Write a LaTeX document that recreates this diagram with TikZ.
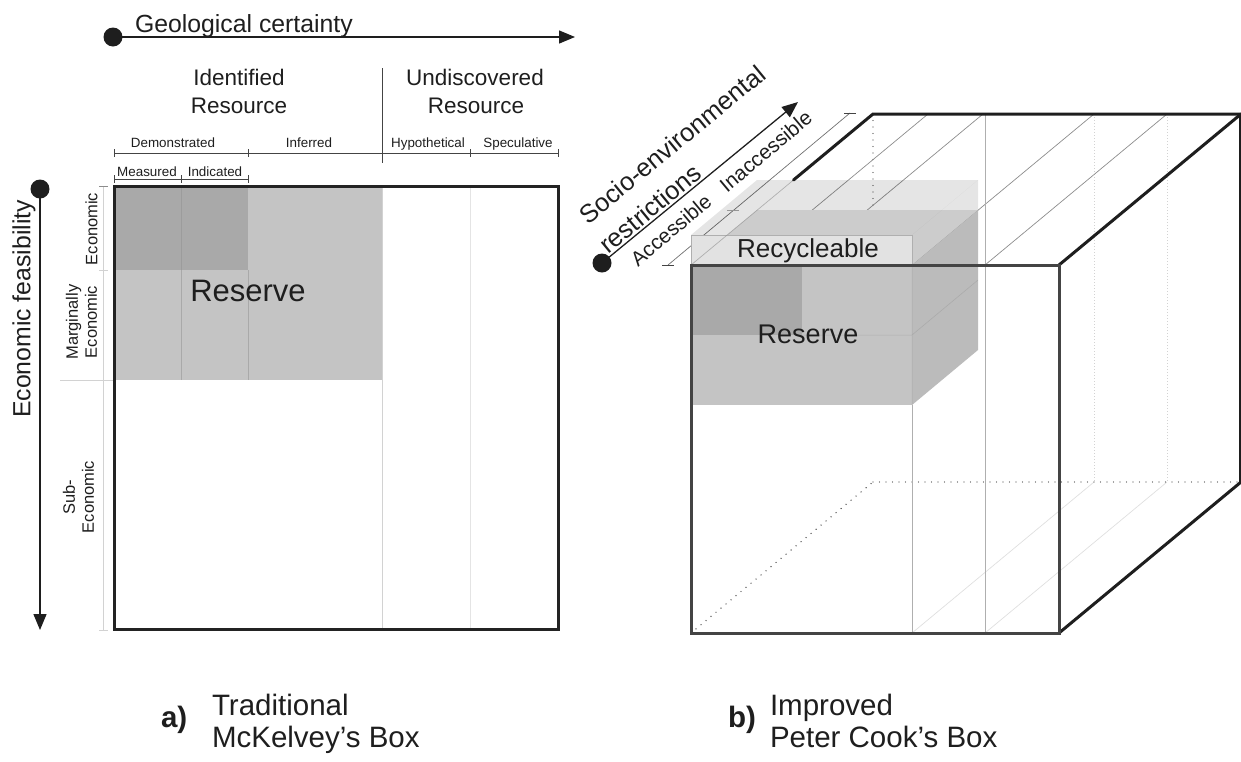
\documentclass[tikz,border=0pt]{standalone}
\usepackage{fontspec}
\setmainfont{Liberation Sans}
\usetikzlibrary{arrows.meta}

\definecolor{ink}{HTML}{1E1E1E}
\definecolor{frameA}{HTML}{232323}
\definecolor{frameB}{HTML}{444444}
\definecolor{resdark}{HTML}{A9A9A9}
\definecolor{reslight}{HTML}{C4C4C4}
\definecolor{resside}{HTML}{BBBBBB}
\definecolor{restop}{HTML}{E4E4E4}
\definecolor{recfront}{HTML}{E2E2E2}
\definecolor{bracket}{HTML}{444444}
\definecolor{faint}{HTML}{D2D2D2}
\definecolor{gridc}{HTML}{8C8C8C}

\begin{document}
\begin{tikzpicture}[x=1pt,y=-1pt,
  every node/.style={inner sep=0pt, outer sep=0pt, text=ink},
  dotnode/.style={circle, fill=ink, minimum size=19pt},
  axisline/.style={draw=ink, line width=1.4pt, -{Triangle[length=16pt,width=13pt]}},
  axistitle/.style={font=\fontsize{24.8}{30}\selectfont},
  grouptitle/.style={font=\fontsize{22.5}{28}\selectfont},
  classlabel/.style={font=\fontsize{13.4}{16}\selectfont},
  sidelabel/.style={font=\fontsize{16.5}{19}\selectfont, rotate=90, align=center},
  depthlabel/.style={font=\fontsize{20.5}{24}\selectfont, rotate=39.9, anchor=base west},
  boxlabel/.style={font=\fontsize{#1}{#1}\selectfont, anchor=base},
  caption/.style={font=\fontsize{29.5}{34}\selectfont, anchor=base west},
  bracketline/.style={draw=bracket, line width=1pt},
  faintline/.style={draw=faint, line width=0.8pt},
  gridline/.style={draw=gridc, line width=0.7pt},
  hiddenedge/.style={draw=frameB, line width=1.4pt, line cap=round, dash pattern=on 0pt off 6.5pt},
  hiddengrid/.style={draw=faint, line width=0.6pt, dash pattern=on 1pt off 2pt},
  cubeedge/.style={draw=ink, line width=3pt, line cap=round},
  frontedge/.style={draw=frameB, line width=3pt}
]
\useasboundingbox (0,0) rectangle (1241,761);

% ================= a) McKelvey box =================
% geological certainty axis
\node[dotnode] (gdot) at (113,37) {};
\coordinate (gend) at (575,37);
\draw[axisline] (gdot.center) -- (gend);
\node[axistitle, anchor=base west] (gtitle) at (135,32) {Geological certainty};

% economic feasibility axis
\node[dotnode] (edot) at (40,189) {};
\coordinate (eend) at (40,630);
\draw[axisline] (edot.center) -- (eend);
\node[axistitle, rotate=90] (etitle) at (24,309) {Economic feasibility};

% resource groups
\node[grouptitle, anchor=base] (ident1) at (239,85) {Identified};
\node[grouptitle, anchor=base] (ident2) at (239,113) {Resource};
\node[grouptitle, anchor=base] (undis1) at (475,85) {Undiscovered};
\node[grouptitle, anchor=base] (undis2) at (476,113) {Resource};

% class brackets
\draw[bracketline] (382,68) -- (382,163);
\draw[bracketline] (114,153) -- (558,153);
\foreach \x in {114,248,470,558} \draw[bracketline] (\x,149) -- (\x,157);
\draw[bracketline] (114,179) -- (248,179);
\foreach \x in {114,181,248} \draw[bracketline] (\x,175) -- (\x,183);
\node[classlabel, anchor=base] (demo) at (173,147) {Demonstrated};
\node[classlabel, anchor=base] (infer) at (309,147) {Inferred};
\node[classlabel, anchor=base] (hypo) at (428,147) {Hypothetical};
\node[classlabel, anchor=base] (spec) at (518,147) {Speculative};
\node[classlabel, anchor=base] (meas) at (147,176) {Measured};
\node[classlabel, anchor=base] (indi) at (215,176) {Indicated};

% economic scale on the left
\draw[faintline] (103,186) -- (103,630);
\draw[faintline] (60,380) -- (114,380);
\draw[draw=gridc, line width=0.8pt] (99,186) -- (108,186);
\draw[draw=faint, line width=0.8pt] (99,270) -- (108,270);
\draw[draw=faint, line width=0.8pt] (99,630) -- (108,630);
\node[sidelabel] (econ) at (91.5,229) {Economic};
\node[sidelabel] (marg) at (81.5,322) {Marginally\\Economic};
\node[sidelabel] (sube) at (78.5,497) {Sub-\\Economic};

% reserve fields
\fill[reslight] (114,186) rectangle (382,380);
\fill[resdark] (114,186) rectangle (248,270);
\draw[draw=resdark!85!black, line width=0.6pt, opacity=0.5] (181,186) -- (181,380) (248,270) -- (248,380);
\draw[faintline] (382,186) -- (382,629);
\draw[draw=faint!60!white, line width=0.8pt] (470,186) -- (470,629);
\node[boxlabel=31] (resA) at (248,301) {Reserve};

\draw[draw=frameA, line width=3pt] (114,186) rectangle (558,629);

% ================= b) Peter Cook box =================
% socio-environmental axis
\node[dotnode] (sdot) at (602,263) {};
\coordinate (send) at (798,102);
\draw[axisline, line width=1.3pt] (sdot.center) -- (send);
\node[axistitle, rotate=39.4, anchor=base west, font=\fontsize{25.5}{30}\selectfont] (socio) at (588,225.3) {Socio-environmental};
\node[axistitle, rotate=39.4, anchor=base west, font=\fontsize{25.5}{30}\selectfont] (restr) at (608.2,254.8) {restrictions};

% accessibility scale
\coordinate (acc0) at (668,265);
\coordinate (acc1) at (850,113);
\draw[draw=gridc!80!black, line width=0.7pt] (acc0) -- (acc1);
\draw[draw=bracket, line width=1pt] (662,265) -- (674,265);
\draw[draw=faint!80!black, line width=1pt] (727,210) -- (739,210);
\draw[draw=bracket, line width=1pt] (844,113) -- (856,113);
\node[depthlabel] (acc) at (638,267) {Accessible};
\node[depthlabel] (inacc) at (727,193) {Inaccessible};

% hidden back edges and back grid
\draw[hiddengrid] (1094,114) -- (1094,482);
\draw[hiddengrid] (1167,114) -- (1167,482);
\draw[draw=faint!70!white, line width=0.7pt] (912,633) -- (1094,482) (985,633) -- (1167,482);
\draw[hiddenedge] (873,114) -- (873,212);
\draw[hiddenedge] (691,633) -- (873,482);
\draw[hiddenedge] (873,482) -- (1241,482);

% top face depth lines and front grid
\foreach \x in {746,801,912,985} \draw[gridline] (\x,265) -- ++(182,-151);
\draw[draw=gridc!70!white, line width=0.8pt] (985,114) -- (985,633);
\draw[draw=gridc!70!white, line width=0.8pt] (912,405) -- (912,633);

% reserve block
\fill[restop] (691,265) -- (912,265) -- (978,210) -- (757,210) -- cycle;
\fill[resside] (912,265) -- (978,210) -- (978,350) -- (912,405) -- cycle;
\fill[reslight] (691,265) rectangle (912,405);
\fill[resdark] (691,265) rectangle (802,335);
\draw[draw=resdark!85!black, line width=0.5pt, opacity=0.4] (802,335) -- (912,335) (912,265) -- (912,405) (912,335) -- (978,280);

% recycleable block
\fill[black, fill opacity=0.1] (691,235) -- (912,235) -- (978,180) -- (757,180) -- cycle;
\fill[black, fill opacity=0.1] (912,235) -- (978,180) -- (978,210) -- (912,265) -- cycle;
\filldraw[fill=recfront, draw=gridc!70!white, line width=0.6pt] (691,235) rectangle (912,265);

% cube edges; the part of the top-left edge behind the blocks shows faintly
\draw[draw=gridc, line width=0.7pt, opacity=0.6] (691,265) -- (793.5,180);
\draw[cubeedge] (793.5,180) -- (873,114) -- (1241,114);
\draw[cubeedge] (1059,265) -- (1241,114);
\draw[cubeedge] (1059,633) -- (1241,482);
\draw[draw=ink, line width=1.5pt] (1240,114) -- (1240,482);
\draw[frontedge] (691,265) rectangle (1059,633);

\node[boxlabel=26] (recy) at (808,257) {Recycleable};
\node[boxlabel=27] (resB) at (808,343) {Reserve};

% ================= captions =================
\node[caption, font=\fontsize{29.5}{34}\selectfont\bfseries] (capa) at (161,727) {a)};
\node[caption] (capa1) at (212,715) {Traditional};
\node[caption] (capa2) at (212,747) {McKelvey’s Box};
\node[caption, font=\fontsize{29.5}{34}\selectfont\bfseries] (capb) at (728,727) {b)};
\node[caption] (capb1) at (770,715) {Improved};
\node[caption] (capb2) at (770,747) {Peter Cook’s Box};
\end{tikzpicture}
\end{document}
